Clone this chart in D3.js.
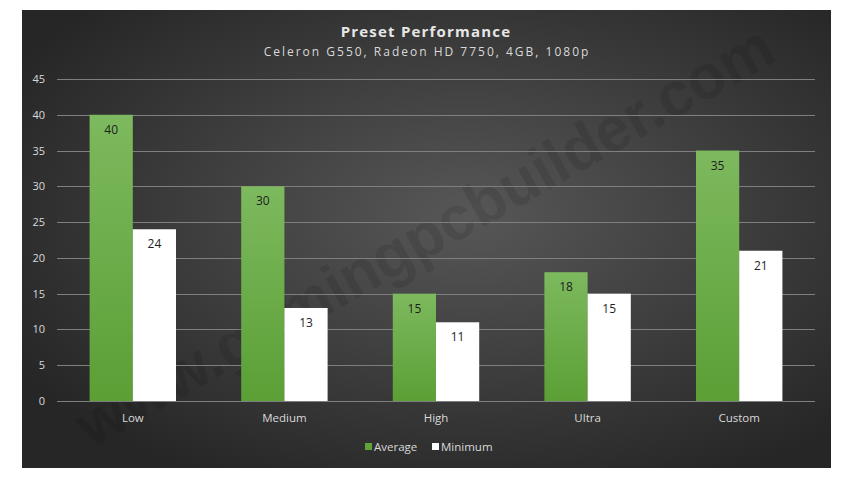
<!DOCTYPE html>
<html>
<head>
<meta charset="utf-8">
<script src="https://cdn.jsdelivr.net/npm/d3@7"></script>
<style>
body { margin: 0; background: #fff; }
svg { display: block; font-family: "Open Sans", sans-serif; }
</style>
</head>
<body>
<script>
const presets = ['Low', 'Medium', 'High', 'Ultra', 'Custom'];
const average = [40, 30, 15, 18, 35];
const minimum = [24, 13, 11, 15, 21];
const yTicks = [0, 5, 10, 15, 20, 25, 30, 35, 40, 45];
const seriesNames = ['Average', 'Minimum'];

const W = 853, H = 479;
const svg = d3.select(document.body).append('svg')
  .attr('width', W).attr('height', H);

const defs = svg.append('defs');
const bg = defs.append('radialGradient').attr('id', 'bg')
  .attr('cx', '55%').attr('cy', '45%').attr('r', '65%');
bg.append('stop').attr('offset', '0%').attr('stop-color', '#575757');
bg.append('stop').attr('offset', '100%').attr('stop-color', '#262626');
const gr = defs.append('linearGradient').attr('id', 'green')
  .attr('x1', 0).attr('y1', 0).attr('x2', 0).attr('y2', 1);
gr.append('stop').attr('offset', '0%').attr('stop-color', '#7db95e');
gr.append('stop').attr('offset', '100%').attr('stop-color', '#5b9f35');

// panel
svg.append('rect').attr('x', 22).attr('y', 10).attr('width', 809).attr('height', 458)
  .attr('fill', 'url(#bg)');

// watermark
svg.append('text')
  .attr('transform', 'translate(427,240) rotate(-29.5)')
  .attr('text-anchor', 'middle').attr('dominant-baseline', 'middle')
  .attr('font-family', 'Liberation Sans, Arial, sans-serif')
  .attr('font-weight', 'bold').attr('font-size', 62)
  .attr('textLength', 790).attr('lengthAdjust', 'spacingAndGlyphs')
  .attr('fill', '#000').attr('fill-opacity', 0.1)
  .text('www.gamingpcbuilder.com');

const x0 = d3.scaleBand().domain(presets).range([57, 815]).paddingInner(0.43).paddingOuter(0.215);
const x1 = d3.scaleBand().domain(seriesNames).range([0, x0.bandwidth()]);
const y = d3.scaleLinear().domain([0, 45]).range([401, 79]);

// grid
svg.append('g').selectAll('line').data(yTicks).join('line')
  .attr('x1', 57).attr('x2', 815)
  .attr('y1', d => Math.round(y(d)) + 0.5).attr('y2', d => Math.round(y(d)) + 0.5)
  .attr('stroke', '#7f7f7f').attr('stroke-width', 1);

// y axis labels
const yAxis = svg.append('g').attr('transform', 'translate(45,0)')
  .call(d3.axisLeft(y).tickValues(yTicks).tickSize(0).tickPadding(0));
yAxis.select('.domain').remove();
yAxis.selectAll('text').attr('fill', '#d9d9d9').attr('font-size', 11)
  .attr('font-family', 'Open Sans, sans-serif');

// x axis labels
const xAxis = svg.append('g').attr('transform', 'translate(0,401)')
  .call(d3.axisBottom(x0).tickSize(0).tickPadding(13));
xAxis.select('.domain').remove();
xAxis.selectAll('text').attr('fill', '#d9d9d9').attr('font-size', 11.5)
  .attr('font-family', 'Open Sans, sans-serif');

// bars
const fills = { Average: 'url(#green)', Minimum: '#ffffff' };
const groups = svg.append('g').selectAll('g').data(presets).join('g')
  .attr('transform', d => `translate(${x0(d)},0)`);
const bars = groups.selectAll('g').data((d, i) => [
  { s: 'Average', v: average[i] }, { s: 'Minimum', v: minimum[i] }
]).join('g');
bars.append('rect')
  .attr('x', d => x1(d.s)).attr('width', x1.bandwidth())
  .attr('y', d => y(d.v)).attr('height', d => y(0) - y(d.v))
  .attr('fill', d => fills[d.s]);
bars.append('text')
  .attr('x', d => x1(d.s) + x1.bandwidth() / 2)
  .attr('y', d => y(d.v) + 19)
  .attr('text-anchor', 'middle').attr('font-size', 12)
  .attr('fill', '#1e1e1e')
  .text(d => d.v);

// title
svg.append('text').attr('x', 426).attr('y', 37).attr('text-anchor', 'middle')
  .attr('font-size', 15).attr('font-weight', 'bold').attr('letter-spacing', 1.2)
  .attr('fill', '#e6e6e6').text('Preset Performance');
svg.append('text').attr('x', 427).attr('y', 56).attr('text-anchor', 'middle')
  .attr('font-size', 12).attr('letter-spacing', 2)
  .attr('fill', '#d9d9d9').text('Celeron G550, Radeon HD 7750, 4GB, 1080p');

// legend
const legendColors = ['#5fa33a', '#ffffff'];
const lg = svg.append('g').attr('transform', 'translate(365,447)');
const lx = [0, 67];
seriesNames.forEach((s, i) => {
  lg.append('rect').attr('x', lx[i]).attr('y', -4).attr('width', 7).attr('height', 7)
    .attr('fill', legendColors[i]);
  lg.append('text').attr('x', lx[i] + 9).attr('y', 4).attr('font-size', 11.5)
    .attr('fill', '#d9d9d9').text(s);
});
</script>
</body>
</html>
